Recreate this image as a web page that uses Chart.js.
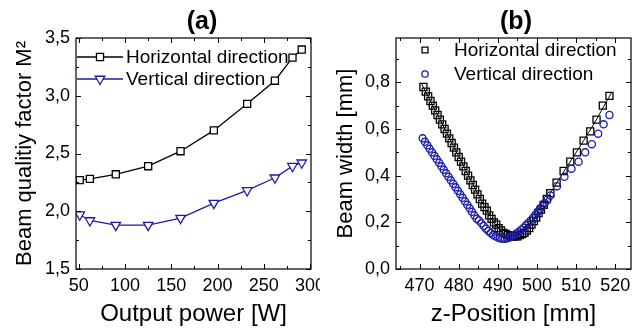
<!DOCTYPE html>
<html>
<head>
<meta charset="utf-8">
<script src="https://cdn.jsdelivr.net/npm/chart.js@4.4.1/dist/chart.umd.min.js"></script>
<style>
  html, body { margin: 0; padding: 0; background: #fff; }
  #wrap { position: relative; width: 641px; height: 334px; overflow: hidden; }
  .panel { position: absolute; top: 0; height: 334px; }
</style>
</head>
<body>
<div id="wrap">
  <div class="panel" style="left:0;width:320px"><canvas id="ca" width="320" height="334"></canvas></div>
  <div class="panel" style="left:320px;width:321px"><canvas id="cb" width="321" height="334"></canvas></div>
</div>
<script>
// ---------- Panel (a) data ----------
const powerA = [51, 62, 90, 125, 160, 196, 232, 262, 281, 291];
const m2Horizontal = [2.27, 2.28, 2.32, 2.39, 2.52, 2.70, 2.93, 3.13, 3.33, 3.40];
const m2Vertical = [1.97, 1.92, 1.88, 1.88, 1.94, 2.07, 2.18, 2.29, 2.39, 2.42];
const xTicksA = [50, 100, 150, 200, 250, 300];
const xMinorA = [75, 125, 175, 225, 275];
const yTicksA = [1.5, 2.0, 2.5, 3.0, 3.5];
const yMinorA = [1.75, 2.25, 2.75, 3.25];

// ---------- Panel (b) data ----------
const zH = [471.0, 471.6, 472.2, 472.8, 473.4, 474.0, 474.6, 475.2, 475.8, 476.4, 477.0, 477.6, 478.2, 478.8, 479.4, 480.0,
  480.6, 481.2, 481.8, 482.4, 483.0, 483.6, 484.2, 484.8, 485.4, 486.0, 486.6, 487.2, 487.8, 488.4, 489.0, 489.6, 490.2,
  490.8, 491.4, 492.0, 492.6, 493.2, 493.8, 494.4, 495.0, 495.6, 496.2, 496.8, 497.4, 498.0, 498.6, 499.2, 499.8, 500.4,
  501.0, 501.7, 502.5, 503.4, 505.0, 506.8, 508.5, 510.2, 511.9, 513.6, 515.2, 516.8, 518.5];
const wH = [0.78, 0.76, 0.74, 0.72, 0.70, 0.68, 0.66, 0.64, 0.62, 0.60, 0.58, 0.56, 0.54, 0.52, 0.50, 0.48,
  0.46, 0.44, 0.42, 0.40, 0.38, 0.36, 0.34, 0.32, 0.30, 0.28, 0.265, 0.25, 0.23, 0.215, 0.20, 0.19, 0.175,
  0.165, 0.155, 0.15, 0.145, 0.14, 0.14, 0.14, 0.14, 0.145, 0.15, 0.155, 0.165, 0.175, 0.19, 0.205, 0.22, 0.24,
  0.255, 0.275, 0.30, 0.325, 0.37, 0.42, 0.46, 0.50, 0.55, 0.59, 0.64, 0.70, 0.742];
const zV = [470.8, 471.4, 472.0, 472.6, 473.2, 473.8, 474.4, 475.0, 475.6, 476.2, 476.8, 477.4, 478.0, 478.6, 479.2, 479.8,
  480.4, 481.0, 481.6, 482.2, 482.8, 483.4, 484.0, 484.6, 485.2, 485.8, 486.4, 487.0, 487.6, 488.2, 488.8, 489.4, 490.0,
  490.6, 491.2, 491.8, 492.4, 493.0, 493.6, 494.2, 494.8, 495.4, 496.0, 496.6, 497.2, 497.8, 498.4, 499.0, 499.6, 500.2,
  500.8, 501.4, 502.0, 502.7, 503.4, 505.1, 507.0, 508.8, 510.6, 512.3, 514.0, 515.6, 517.0, 518.5];
const wV = [0.56, 0.545, 0.53, 0.515, 0.50, 0.485, 0.47, 0.455, 0.44, 0.425, 0.41, 0.395, 0.38, 0.365, 0.35, 0.335,
  0.32, 0.305, 0.29, 0.275, 0.26, 0.245, 0.23, 0.215, 0.208, 0.196, 0.184, 0.173, 0.163, 0.154, 0.146, 0.14, 0.135,
  0.132, 0.13, 0.13, 0.132, 0.135, 0.14, 0.146, 0.153, 0.16, 0.168, 0.177, 0.187, 0.197, 0.208, 0.22, 0.232, 0.245,
  0.258, 0.27, 0.283, 0.298, 0.315, 0.355, 0.395, 0.43, 0.46, 0.50, 0.535, 0.58, 0.62, 0.66];
const zFitH = [470.5, 475, 480, 485, 487, 489, 491, 493, 495, 497, 499, 501, 503, 506, 510, 514, 519];
const wFitH = [0.795, 0.648, 0.483, 0.318, 0.255, 0.20, 0.16, 0.142, 0.145, 0.17, 0.21, 0.262, 0.315, 0.395, 0.50, 0.607, 0.755];
const xTicksB = [470, 480, 490, 500, 510, 520];
const xMinorB = [465, 475, 485, 495, 505, 515];
const yTicksB = [0.0, 0.2, 0.4, 0.6, 0.8];
const yMinorB = [0.1, 0.3, 0.5, 0.7, 0.9];

const FONT = "'Liberation Sans', Arial, sans-serif";
const BLUE = '#1c1caa';
Chart.defaults.font.family = FONT;
Chart.defaults.color = '#000';
Chart.defaults.animation = false;

function pts(xs, ys) { return xs.map((v, i) => ({ x: v, y: ys[i] })); }
function comma(dec) { return v => Number(v).toFixed(dec).replace('.', ','); }

const frameTicks = {
  id: 'frameTicks',
  afterDatasetsDraw(chart, args, o) {
    const { ctx, chartArea: a, scales: { x, y } } = chart;
    ctx.save();
    ctx.strokeStyle = '#000';
    ctx.lineWidth = 1.2;
    ctx.strokeRect(a.left, a.top, a.right - a.left, a.bottom - a.top);
    ctx.lineWidth = 1;
    ctx.beginPath();
    const vt = (vals, len) => vals.forEach(v => {
      const p = Math.round(x.getPixelForValue(v)) + 0.5;
      ctx.moveTo(p, a.bottom); ctx.lineTo(p, a.bottom - len);
      ctx.moveTo(p, a.top); ctx.lineTo(p, a.top + len);
    });
    const ht = (vals, len) => vals.forEach(v => {
      const p = Math.round(y.getPixelForValue(v)) + 0.5;
      ctx.moveTo(a.left, p); ctx.lineTo(a.left + len, p);
      ctx.moveTo(a.right, p); ctx.lineTo(a.right - len, p);
    });
    vt(o.xMajor, 5); vt(o.xMinor, 3); ht(o.yMajor, 5); ht(o.yMinor, 3);
    ctx.stroke();
    // panel label
    ctx.fillStyle = '#000';
    ctx.font = 'bold 25px ' + FONT;
    ctx.textAlign = 'center';
    ctx.textBaseline = 'middle';
    ctx.fillText(o.label, o.labelX, o.labelY);
    // legend
    ctx.font = '19px ' + FONT;
    ctx.textAlign = 'left';
    o.legend.forEach(it => {
      ctx.strokeStyle = it.color;
      ctx.lineWidth = 1.3;
      if (it.line) {
        ctx.beginPath(); ctx.moveTo(it.x0, it.y); ctx.lineTo(it.x1, it.y); ctx.stroke();
      }
      ctx.fillStyle = '#fff';
      Chart.helpers.drawPoint(ctx, {
        pointStyle: it.style, radius: it.r, rotation: it.rot || 0, borderWidth: 1.3
      }, it.mx, it.y);
      ctx.fillStyle = '#000';
      ctx.fillText(it.text, it.tx, it.y + 1);
    });
    ctx.restore();
  }
};

function axisCommon(ticksArr, dec) {
  return {
    type: 'linear',
    grid: { display: false, drawTicks: false },
    border: { display: false },
    afterBuildTicks: s => { s.ticks = ticksArr.map(v => ({ value: v })); },
    ticks: { font: { size: 18 }, color: '#000', callback: comma(dec), padding: 6, maxRotation: 0, autoSkip: false }
  };
}
function fitX(s) { s.height = 65; s.paddingLeft = 0; s.paddingRight = 0; }
function fitY(s) { s.width = 76; s.paddingTop = 0; s.paddingBottom = 0; }

// ---------- Chart (a) ----------
new Chart(document.getElementById('ca'), {
  type: 'scatter',
  data: {
    datasets: [
      { label: 'Horizontal direction', data: pts(powerA, m2Horizontal), showLine: true,
        borderColor: '#000', borderWidth: 1.3, pointStyle: 'rect', pointRadius: 5, pointHoverRadius: 5,
        pointBackgroundColor: '#fff', pointBorderColor: '#000', pointBorderWidth: 1.3 },
      { label: 'Vertical direction', data: pts(powerA, m2Vertical), showLine: true,
        borderColor: BLUE, borderWidth: 1.3, pointStyle: 'triangle', rotation: 180, pointRotation: 180, pointRadius: 5.5,
        pointHoverRadius: 5.5, pointBackgroundColor: '#fff', pointBorderColor: BLUE, pointBorderWidth: 1.3 }
    ]
  },
  options: {
    responsive: false,
    layout: { padding: { top: 38, right: 9, left: 0, bottom: 0 } },
    plugins: {
      legend: { display: false }, tooltip: { enabled: false },
      frameTicks: {
        xMajor: xTicksA, xMinor: xMinorA, yMajor: yTicksA, yMinor: yMinorA,
        label: '(a)', labelX: 202, labelY: 22,
        legend: [
          { text: 'Horizontal direction', color: '#000', style: 'rect', r: 5, line: true, x0: 77, x1: 123, mx: 100, tx: 126, y: 57 },
          { text: 'Vertical direction', color: BLUE, style: 'triangle', rot: 180, r: 5.5, line: true, x0: 77, x1: 123, mx: 100, tx: 126, y: 79 }
        ]
      }
    },
    scales: {
      x: Object.assign(axisCommon(xTicksA, 0), {
        min: 47, max: 301,
        afterFit: fitX,
        title: { display: true, text: 'Output power [W]', font: { size: 24 }, color: '#000', padding: { top: 0, bottom: 5 } }
      }),
      y: Object.assign(axisCommon(yTicksA, 1), {
        min: 1.5, max: 3.5,
        afterFit: fitY,
        title: { display: true, text: 'Beam qualitiy factor M²', font: { size: 22 }, color: '#000', padding: { top: 12, bottom: 0 } }
      })
    }
  },
  plugins: [frameTicks]
});

// ---------- Chart (b) ----------
new Chart(document.getElementById('cb'), {
  type: 'scatter',
  data: {
    datasets: [
      { label: 'Vertical direction', data: pts(zV, wV), order: 0,
        pointStyle: 'circle', pointRadius: 3.6, pointHoverRadius: 3.6,
        pointBackgroundColor: 'rgba(0,0,0,0)', pointBorderColor: BLUE, pointBorderWidth: 1.3 },
      { label: 'fit', data: pts(zFitH, wFitH), order: 1, showLine: true, pointRadius: 0,
        borderColor: '#000', borderWidth: 1, cubicInterpolationMode: 'monotone' },
      { label: 'Horizontal direction', data: pts(zH, wH), order: 2,
        pointStyle: 'rect', pointRadius: 5, pointHoverRadius: 5,
        pointBackgroundColor: 'rgba(0,0,0,0)', pointBorderColor: '#000', pointBorderWidth: 1.3 }
    ]
  },
  options: {
    responsive: false,
    layout: { padding: { top: 38, right: 10, left: 0, bottom: 0 } },
    plugins: {
      legend: { display: false }, tooltip: { enabled: false },
      frameTicks: {
        xMajor: xTicksB, xMinor: xMinorB, yMajor: yTicksB, yMinor: yMinorB,
        label: '(b)', labelX: 196, labelY: 22,
        legend: [
          { text: 'Horizontal direction', color: '#000', style: 'rect', r: 4.2, line: false, mx: 105, tx: 134, y: 50 },
          { text: 'Vertical direction', color: BLUE, style: 'circle', r: 3.2, line: false, mx: 105, tx: 134, y: 74 }
        ]
      }
    },
    scales: {
      x: Object.assign(axisCommon(xTicksB, 0), {
        min: 464, max: 524,
        afterFit: fitX,
        title: { display: true, text: 'z-Position [mm]', font: { size: 24 }, color: '#000', padding: { top: 0, bottom: 5 } }
      }),
      y: Object.assign(axisCommon(yTicksB, 1), {
        min: 0, max: 0.99,
        afterFit: fitY,
        title: { display: true, text: 'Beam width [mm]', font: { size: 22 }, color: '#000', padding: { top: 13, bottom: 0 } }
      })
    }
  },
  plugins: [frameTicks]
});
</script>
</body>
</html>
